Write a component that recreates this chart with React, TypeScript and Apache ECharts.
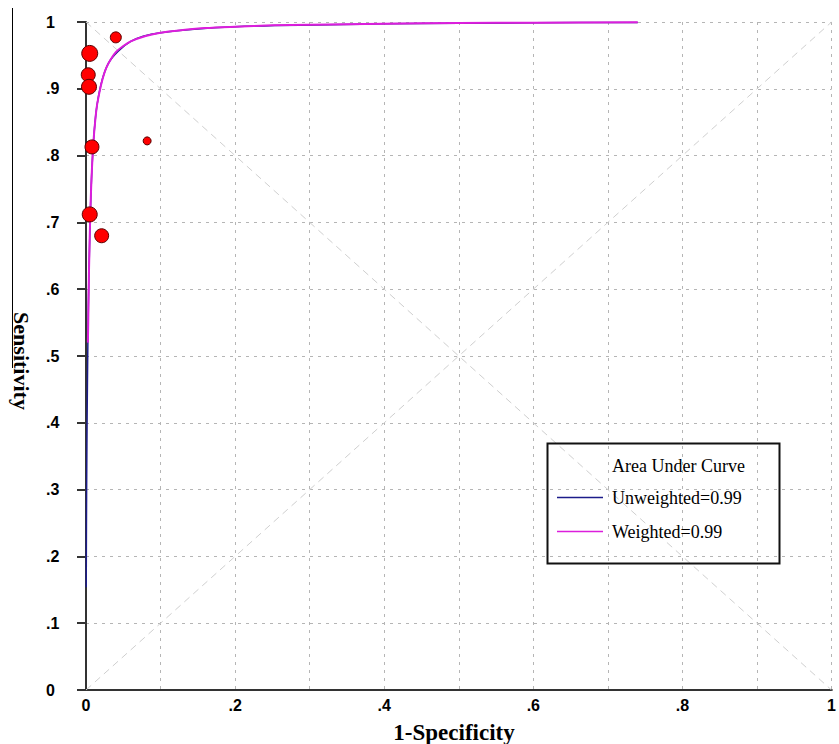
import React, { useEffect, useRef } from "react";
import * as echarts from "echarts";

// Study points: [1-Specificity, Sensitivity]
const studyPoints: [number, number][] = [
  [0.040, 0.977],
  [0.005, 0.953],
  [0.003, 0.921],
  [0.004, 0.903],
  [0.008, 0.813],
  [0.082, 0.822],
  [0.005, 0.712],
  [0.021, 0.680],
];
// Relative study weights (symbol diameters)
const studySizes: number[] = [11, 16, 14, 15, 14, 8, 15, 14];

// Weighted SROC curve
const weightedCurve: [number, number][] = [
  [0.0025, 0.52], [0.003, 0.55], [0.004, 0.627], [0.006, 0.723], [0.008, 0.781],
  [0.010, 0.821], [0.0125, 0.854], [0.015, 0.877], [0.02, 0.905], [0.025, 0.925],
  [0.03, 0.938], [0.04, 0.955], [0.05, 0.964], [0.06, 0.971], [0.08, 0.979],
  [0.10, 0.984], [0.13, 0.988], [0.16, 0.991], [0.2, 0.993], [0.25, 0.995],
  [0.3, 0.996], [0.4, 0.9975], [0.5, 0.9985], [0.6, 0.999], [0.74, 0.9995],
];
// Unweighted SROC curve
const unweightedCurve: [number, number][] = [
  [0.0003, 0.154], [0.0006, 0.25], [0.001, 0.33], [0.0015, 0.41], [0.0025, 0.52],
  [0.004, 0.627], [0.008, 0.781], [0.015, 0.877], [0.03, 0.938], [0.06, 0.971],
  [0.10, 0.984], [0.2, 0.993], [0.4, 0.9972], [0.6, 0.9988], [0.74, 0.9994],
];
const diagonalUp: [number, number][] = [[0, 0], [1, 1]];
const diagonalDown: [number, number][] = [[0, 1], [1, 0]];

const xTickValues = [0, 0.2, 0.4, 0.6, 0.8, 1];
const xTickLabels = ["0", ".2", ".4", ".6", ".8", "1"];
const yTickValues = [0, 0.1, 0.2, 0.3, 0.4, 0.5, 0.6, 0.7, 0.8, 0.9, 1];
const yTickLabels = ["0", ".1", ".2", ".3", ".4", ".5", ".6", ".7", ".8", ".9", "1"];

const legendTitle = "Area Under Curve";
const legendUnweighted = "Unweighted=0.99";
const legendWeighted = "Weighted=0.99";
const xAxisTitle = "1-Specificity";
const yAxisTitle = "Sensitivity";

const NAVY = "#1c1c8a";
const MAGENTA = "#dc1edc";

function lookup(values: number[], labels: string[], v: number) {
  for (let i = 0; i < values.length; i++) {
    if (Math.abs(values[i] - v) < 1e-6) return labels[i];
  }
  return "";
}

export default function App() {
  const ref = useRef<HTMLDivElement>(null);
  useEffect(() => {
    document.body.style.margin = "0";
    const chart = echarts.init(ref.current!, null, { renderer: "svg" });
    const gridDash = { color: "#b5b5b5", width: 1, type: [3, 5] as number[] };
    const legendFont = "18px 'Liberation Serif', 'Times New Roman', serif";
    chart.setOption({
      animation: false,
      backgroundColor: "#ffffff",
      grid: { left: 86, top: 22, width: 755, height: 668 },
      xAxis: [
        {
          type: "value",
          min: 0,
          max: 1,
          interval: 0.1,
          axisLine: { show: true, onZero: false, lineStyle: { color: "#333", width: 2 } },
          axisTick: { show: false },
          axisLabel: {
            margin: 7,
            color: "#000",
            fontFamily: "Liberation Sans, Arial, sans-serif",
            fontWeight: "bold",
            fontSize: 16,
            formatter: (v: number) => lookup(xTickValues, xTickLabels, v),
          },
          splitLine: { show: true, lineStyle: gridDash },
        },
        {
          type: "value",
          position: "top",
          min: 0,
          max: 1,
          axisLine: { show: true, lineStyle: { color: "#333", width: 2 } },
          axisTick: { show: false },
          axisLabel: { show: false },
          splitLine: { show: false },
        },
      ],
      yAxis: {
        type: "value",
        min: 0,
        max: 1,
        interval: 0.1,
        axisLine: { show: true, onZero: false, lineStyle: { color: "#333", width: 2 } },
        axisTick: { show: true, inside: false, length: 9, lineStyle: { color: "#333", width: 2 } },
        axisLabel: {
          align: "left",
          margin: 40,
          color: "#000",
          fontFamily: "Liberation Sans, Arial, sans-serif",
          fontWeight: "bold",
          fontSize: 16,
          formatter: (v: number) => lookup(yTickValues, yTickLabels, v),
        },
        splitLine: { show: true, lineStyle: gridDash },
      },
      series: [
        {
          type: "line",
          data: diagonalUp,
          symbol: "none",
          silent: true,
          lineStyle: { color: "#cfcfcf", width: 1, type: [7, 5] },
          z: 1,
        },
        {
          type: "line",
          data: diagonalDown,
          symbol: "none",
          silent: true,
          lineStyle: { color: "#cfcfcf", width: 1, type: [7, 5] },
          z: 1,
        },
        {
          name: "Unweighted",
          type: "line",
          data: unweightedCurve,
          symbol: "none",
          smooth: 0.3,
          lineStyle: { color: NAVY, width: 1.5 },
          z: 2,
        },
        {
          name: "Weighted",
          type: "line",
          data: weightedCurve,
          symbol: "none",
          smooth: 0.3,
          lineStyle: { color: MAGENTA, width: 2 },
          z: 3,
        },
        {
          type: "scatter",
          data: studyPoints.map((p, i) => ({ value: p, symbolSize: studySizes[i] })),
          itemStyle: { color: "#ff0000", borderColor: "#5a0000", borderWidth: 1, opacity: 1 },
          z: 4,
        },
      ],
      graphic: [
        {
          type: "line",
          shape: { x1: 12.5, y1: 8, x2: 12.5, y2: 368 },
          style: { stroke: "#000", lineWidth: 1 },
        },
        {
          type: "text",
          x: 454,
          y: 732,
          style: {
            text: xAxisTitle,
            font: "bold 23px 'Liberation Serif', 'Times New Roman', serif",
            fill: "#000",
            align: "center",
            verticalAlign: "middle",
          },
        },
        {
          type: "text",
          x: 21,
          y: 361,
          rotation: -Math.PI / 2,
          style: {
            text: yAxisTitle,
            font: "bold 22px 'Liberation Serif', 'Times New Roman', serif",
            fill: "#000",
            align: "center",
            verticalAlign: "middle",
          },
        },
        {
          type: "rect",
          shape: { x: 547.5, y: 443.5, width: 232, height: 120 },
          style: { fill: "none", stroke: "#111", lineWidth: 2 },
          z: 10,
        },
        {
          type: "text",
          x: 612,
          y: 466,
          style: { text: legendTitle, font: legendFont, fill: "#000", verticalAlign: "middle" },
          z: 10,
        },
        {
          type: "line",
          shape: { x1: 557, y1: 497.5, x2: 603, y2: 497.5 },
          style: { stroke: NAVY, lineWidth: 1.5 },
          z: 10,
        },
        {
          type: "text",
          x: 612,
          y: 497.5,
          style: { text: legendUnweighted, font: legendFont, fill: "#000", verticalAlign: "middle" },
          z: 10,
        },
        {
          type: "line",
          shape: { x1: 557, y1: 531.5, x2: 603, y2: 531.5 },
          style: { stroke: MAGENTA, lineWidth: 1.5 },
          z: 10,
        },
        {
          type: "text",
          x: 612,
          y: 531.5,
          style: { text: legendWeighted, font: legendFont, fill: "#000", verticalAlign: "middle" },
          z: 10,
        },
      ],
    });
    return () => chart.dispose();
  }, []);
  return <div ref={ref} style={{ width: 839, height: 744 }} />;
}
